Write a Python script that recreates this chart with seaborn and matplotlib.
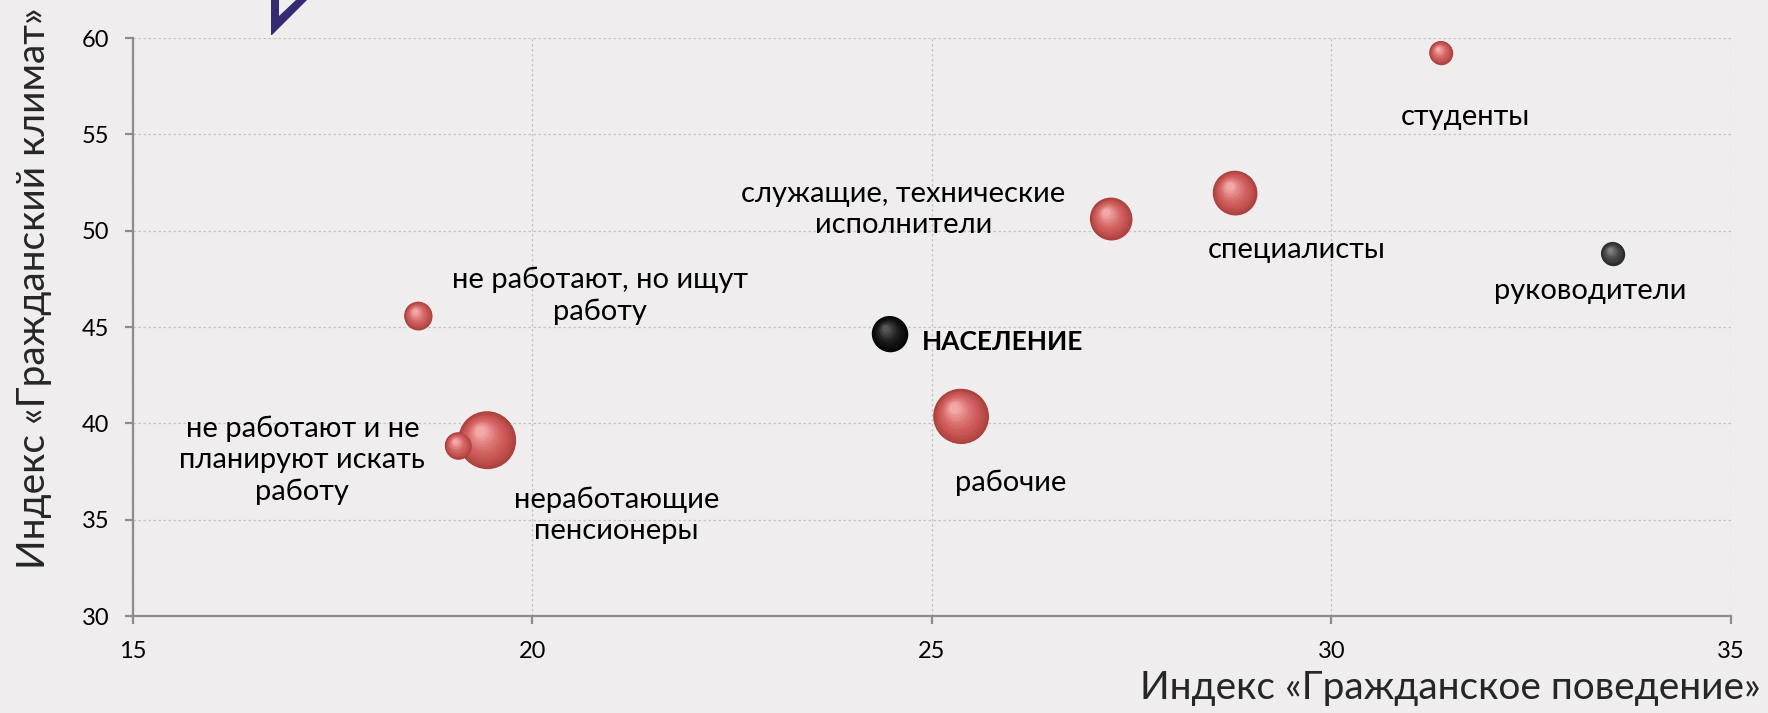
import numpy as np
import pandas as pd
import seaborn as sns
import matplotlib.pyplot as plt
from matplotlib import transforms as mtrans
from matplotlib.patches import Polygon

# data
groups = ["студенты", "специалисты", "служащие, технические\nисполнители", "руководители",
          "не работают, но ищут\nработу", "НАСЕЛЕНИЕ", "рабочие",
          "неработающие\nпенсионеры", "не работают и не\nпланируют искать\nработу"]
behaviour = [31.37, 28.79, 27.24, 33.52, 18.57, 24.47, 25.36, 19.43, 19.07]
climate = [59.24, 51.97, 50.63, 48.81, 45.59, 44.65, 40.37, 39.14, 38.85]
bubble = [137, 484, 441, 137, 196, 317, 756, 824, 177]
kind = ["группа", "группа", "группа", "руководители", "группа", "население",
        "группа", "группа", "группа"]

# label positions (data coords) and alignment
label_x = [31.68, 29.57, 24.64, 33.24, 20.84, 24.88, 25.98, 21.05, 17.12]
label_y = [55.9, 48.99, 51.1, 46.88, 46.64, 44.24, 36.92, 35.22, 38.09]
label_ha = ["center"] * 5 + ["left"] + ["center"] * 3

bg = "#efedee"
sns.set_theme(style="white")
plt.rcParams["font.family"] = ["Lato", "DejaVu Sans"]

df = pd.DataFrame({"x": behaviour, "y": climate, "size": bubble, "kind": kind})

fig = plt.figure(figsize=(17.68, 7.13), dpi=100, facecolor=bg)
ax = fig.add_axes([0.0752, 0.136, 0.9038, 0.8107])
ax.set_facecolor(bg)

k = 2.07  # px radius^2 -> pt^2 area
palette = {"группа": "#a8403e", "население": "#050505", "руководители": "#303030"}
sns.scatterplot(data=df, x="x", y="y", size="size", hue="kind", palette=palette,
                sizes=(min(bubble) * k, max(bubble) * k), size_norm=(min(bubble), max(bubble)),
                linewidth=0, legend=False, ax=ax, zorder=2)

# sphere shading
shade = {"группа": ((0.68, 0.26, 0.25), (0.80, 0.35, 0.34), (0.98, 0.70, 0.70)),
         "население": ((0.02, 0.02, 0.02), (0.08, 0.08, 0.08), (0.38, 0.38, 0.38)),
         "руководители": ((0.17, 0.17, 0.17), (0.25, 0.25, 0.25), (0.55, 0.55, 0.55))}
n = 14
for i, (xi, yi, bi, kd) in enumerate(zip(behaviour, climate, bubble, kind)):
    s = bi * k
    r = np.sqrt(s) / 2
    c_edge, c_mid, c_hi = [np.array(c) for c in shade[kd]]
    for j in range(n):
        t = j / n
        if t < 0.3:
            col = c_edge + (c_mid - c_edge) * (t / 0.3)
        else:
            col = c_mid + (c_hi - c_mid) * ((t - 0.3) / 0.7) ** 1.3
        off = mtrans.offset_copy(ax.transData, fig=fig, x=-0.25 * r * t, y=0.33 * r * t, units="points")
        ax.scatter([xi], [yi], s=s * (1 - 0.88 * t) ** 2, color=col, linewidths=0,
                   transform=off, zorder=3 + i + j * 0.01)

for g, lx, ly, ha in zip(groups, label_x, label_y, label_ha):
    bold = g == "НАСЕЛЕНИЕ"
    ax.text(lx, ly, g, ha=ha, va="center", fontsize=19 if bold else 21, linespacing=1.25,
            fontweight="bold" if bold else "normal", color="black", zorder=20)

ax.set_xlim(15, 35)
ax.set_ylim(30, 60)
ax.set_xticks([15, 20, 25, 30, 35])
ax.set_yticks([30, 35, 40, 45, 50, 55, 60])
ax.set_xlabel("")
ax.set_ylabel("")
ax.set_axisbelow(True)
ax.grid(True, color="#c4c2c3", linestyle=(0, (2, 2)), linewidth=0.9)
for side in ["top", "right"]:
    ax.spines[side].set_visible(False)
for side in ["left", "bottom"]:
    ax.spines[side].set_color("#8c8c8c")
    ax.spines[side].set_linewidth(1.6)
ax.tick_params(axis="both", direction="out", length=6, width=1.6, color="#8c8c8c",
               labelsize=17, labelcolor="black")
ax.tick_params(axis="x", pad=12, bottom=True)
ax.tick_params(axis="y", pad=11, left=True)

fig.text(0.019, 0.596, "Индекс «Гражданский климат»", rotation=90, ha="center", va="center", fontsize=28)
fig.text(0.996, 0.035, "Индекс «Гражданское поведение»", ha="right", va="center", fontsize=28)

# decorative check mark at the top left
pts = [(271, 0), (279, 0), (279, 16), (296, 0), (307, 0), (272, 35), (271, 35)]
fig.patches.append(Polygon([(px / 1768, 1 - py / 713) for px, py in pts], closed=True,
                           transform=fig.transFigure, facecolor="#332c72", edgecolor="none"))

fig.savefig("out.png", dpi=100, facecolor=bg)
